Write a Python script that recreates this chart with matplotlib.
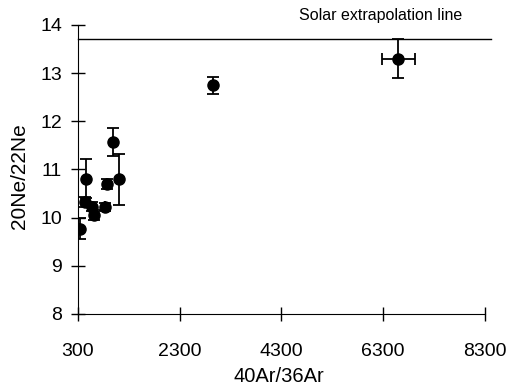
import numpy as np
import matplotlib.pyplot as plt

plt.rcParams['font.family'] = ['Liberation Sans', 'DejaVu Sans']

###########################################
# Data
###########################################

ar_ratio = [340, 450, 440, 570, 615, 830, 880, 995, 1110, 2950, 6600]
ne_ratio = [9.77, 10.81, 10.32, 10.23, 10.05, 10.22, 10.70, 11.57, 10.80, 12.75, 13.30]
ne_err = [0.22, 0.41, 0.10, 0.10, 0.10, 0.08, 0.10, 0.30, 0.53, 0.18, 0.40]
ar_err = [0, 0, 0, 0, 0, 0, 0, 0, 0, 0, 320]
solar_line = 13.71

###########################################
# Plot
###########################################

fig = plt.figure(figsize=(5.11, 3.88), dpi=100)
ax = fig.add_axes([0.1526, 0.191, 0.7964, 0.7446])

ax.errorbar(ar_ratio, ne_ratio, yerr=ne_err, xerr=ar_err, fmt='o', color='black',
            ms=8, capsize=4.3, elinewidth=1.3, capthick=1.3)
ax.plot([300, 8420], [solar_line, solar_line], color='black', lw=1.0, clip_on=False)
ax.text(6250, 14.2, 'Solar extrapolation line', ha='center', va='center',
        fontsize=11.5, clip_on=False)

ax.set_xlim(300, 8300)
ax.set_ylim(8, 14)
ax.set_xticks([300, 2300, 4300, 6300, 8300])
ax.set_yticks(np.arange(8, 15, 1))
ax.tick_params(direction='inout', length=9.5, width=1, labelsize=14)
ax.tick_params(axis='x', pad=16)
ax.tick_params(axis='y', pad=6.8)
ax.spines['top'].set_visible(False)
ax.spines['right'].set_visible(False)
ax.set_xlabel('40Ar/36Ar', fontsize=14.5)
ax.set_ylabel('20Ne/22Ne', fontsize=15)
ax.xaxis.set_label_coords(0.494, -0.1834)
ax.yaxis.set_label_coords(-0.1204, 0.4775)

plt.savefig('out.png', dpi=100)
